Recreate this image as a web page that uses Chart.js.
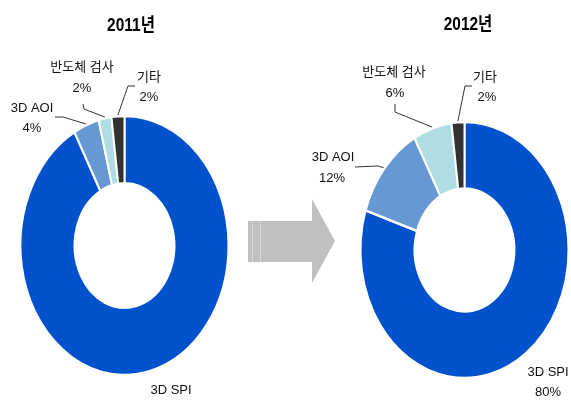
<!DOCTYPE html>
<html lang="ko">
  <head>
    <meta charset="UTF-8" />
    <title>3D SPI 매출 비중 2011 → 2012</title>
    <script src="https://cdn.jsdelivr.net/npm/chart.js"></script>
    <style>
      body {
        margin: 0;
        background: #fff;
      }
      #wrap {
        position: relative;
        width: 571px;
        height: 403px;
      }
      #wrap canvas {
        position: absolute;
        left: 0;
        top: 0;
      }
    </style>
  </head>
  <body>
    <div id="wrap">
      <canvas id="chart2011" width="571" height="403"></canvas>
      <canvas id="chart2012" width="571" height="403"></canvas>
    </div>

    <script>
      // data
      const categories = ["3D SPI", "3D AOI", "반도체 검사", "기타"];
      const share2011 = [92, 4, 2, 2];
      const share2012 = [80, 12, 6, 2];
      const years = ["2011년", "2012년"];

      const sliceColors = ["#0051CC", "#6699D3", "#AEDDE3", "#333333"];
      const labelFont = '13px "Liberation Sans", "Noto Sans CJK KR", sans-serif';
      const titleFont = 'bold 18px "Liberation Sans", "Noto Sans CJK KR", sans-serif';

      // where the texts and leader lines sit (label side); the other end of
      // each leader is taken from the slice itself
      const layout2011 = {
        title: [131, 26],
        squash: 1.245,
        labels: [
          { name: [171, 390], pct: null, leader: null },
          { name: [32, 108], pct: [32, 128], leader: [[55, 117], [63, 117]] },
          { name: [82, 67], pct: [82, 88], leader: [[83, 104], [84, 109]] },
          { name: [149, 77], pct: [149, 97], leader: [[135, 86], [128, 86]] },
        ],
      };
      const layout2012 = {
        title: [468, 25],
        squash: 1.231,
        labels: [
          { name: [548, 372], pct: [548, 392], leader: null },
          { name: [333, 157], pct: [332, 178], leader: [[355, 167], [378, 166]] },
          { name: [394, 72], pct: [395, 93], leader: [[395, 104], [395, 112]] },
          { name: [485, 77], pct: [487, 97], leader: [[472, 86], [465, 86]] },
        ],
      };

      // stretch the ring vertically, like the original oval doughnuts
      const squashPlugin = {
        id: "squash",
        beforeDatasetsDraw(chart) {
          const arc = chart.getDatasetMeta(0).data[0];
          const s = chart.options.plugins.squash.factor;
          const ctx = chart.ctx;
          ctx.save();
          ctx.translate(arc.x, arc.y);
          ctx.scale(1, s);
          ctx.translate(-arc.x, -arc.y);
        },
        afterDatasetsDraw(chart) {
          chart.ctx.restore();
        },
      };

      const labelPlugin = {
        id: "sliceLabels",
        afterDraw(chart) {
          const opts = chart.options.plugins.sliceLabels;
          const lay = opts.layout;
          const s = chart.options.plugins.squash.factor;
          const values = chart.data.datasets[0].data;
          const arcs = chart.getDatasetMeta(0).data;
          const ctx = chart.ctx;
          ctx.save();

          if (opts.arrow) {
            ctx.fillStyle = "#C0C0C0";
            ctx.beginPath();
            ctx.moveTo(248, 221);
            ctx.lineTo(312, 221);
            ctx.lineTo(312, 199);
            ctx.lineTo(335, 241);
            ctx.lineTo(312, 283);
            ctx.lineTo(312, 262);
            ctx.lineTo(248, 262);
            ctx.closePath();
            ctx.fill();
            ctx.fillStyle = "#DADADA";
            ctx.fillRect(252, 221, 1, 41);
            ctx.fillRect(260, 221, 1, 41);
          }

          ctx.textAlign = "center";
          ctx.textBaseline = "middle";

          // narrow bold year title
          ctx.save();
          ctx.fillStyle = "#000";
          ctx.font = titleFont;
          ctx.translate(lay.title[0], lay.title[1]);
          ctx.scale(0.86, 1);
          ctx.fillText(opts.title, 0, 0);
          ctx.restore();

          ctx.fillStyle = "#111";
          ctx.font = labelFont;
          ctx.strokeStyle = "#333";
          ctx.lineWidth = 1;
          arcs.forEach((arc, i) => {
            const lb = lay.labels[i];
            ctx.fillText(chart.data.labels[i], lb.name[0], lb.name[1]);
            if (lb.pct) ctx.fillText(values[i] + "%", lb.pct[0], lb.pct[1]);
            if (lb.leader) {
              const a = (arc.startAngle + arc.endAngle) / 2;
              const r = arc.outerRadius + 1;
              const ex = arc.x + r * Math.cos(a);
              const ey = arc.y + r * Math.sin(a) * s;
              ctx.beginPath();
              ctx.moveTo(lb.leader[0][0], lb.leader[0][1]);
              ctx.lineTo(lb.leader[1][0], lb.leader[1][1]);
              ctx.lineTo(ex, ey);
              ctx.stroke();
            }
          });
          ctx.restore();
        },
      };

      function makeDoughnut(id, values, title, lay, padding, arrow) {
        return new Chart(document.getElementById(id), {
          type: "doughnut",
          data: {
            labels: categories,
            datasets: [
              {
                data: values,
                backgroundColor: sliceColors,
                borderColor: "#ffffff",
                borderWidth: 2,
              },
            ],
          },
          options: {
            responsive: false,
            animation: false,
            cutout: "48%",
            layout: { padding: padding },
            plugins: {
              legend: { display: false },
              tooltip: { enabled: false },
              squash: { factor: lay.squash },
              sliceLabels: { title: title, layout: lay, arrow: arrow },
            },
          },
          plugins: [squashPlugin, labelPlugin],
        });
      }

      makeDoughnut("chart2011", share2011, years[0], layout2011,
        { left: 19.5, right: 341.5, top: 140.5, bottom: 52.5 }, true);
      makeDoughnut("chart2012", share2012, years[1], layout2012,
        { left: 359.5, right: 1.5, top: 145, bottom: 48 }, false);
    </script>
  </body>
</html>
